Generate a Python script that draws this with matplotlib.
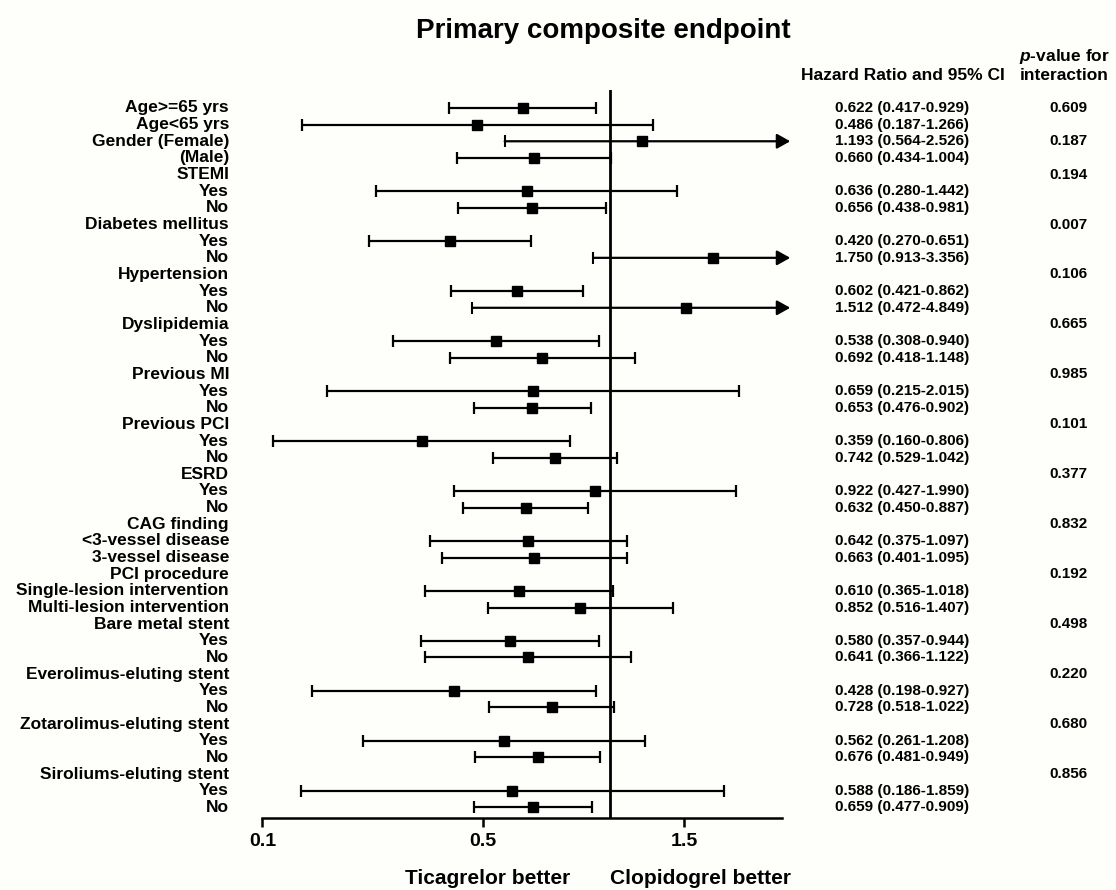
import numpy as np
import matplotlib.pyplot as plt
from matplotlib.ticker import NullLocator
from matplotlib.transforms import blended_transform_factory

plt.rcParams['font.family'] = ['Liberation Sans', 'DejaVu Sans']
plt.rcParams['mathtext.fontset'] = 'custom'
plt.rcParams['mathtext.it'] = 'Liberation Sans:italic:bold'
plt.rcParams['mathtext.rm'] = 'Liberation Sans:bold'

nan = np.nan

# subgroup rows, top to bottom
labels = ['Age>=65 yrs', 'Age<65 yrs', 'Gender (Female)', '(Male)',
          'STEMI', 'Yes', 'No',
          'Diabetes mellitus', 'Yes', 'No',
          'Hypertension', 'Yes', 'No',
          'Dyslipidemia', 'Yes', 'No',
          'Previous MI', 'Yes', 'No',
          'Previous PCI', 'Yes', 'No',
          'ESRD', 'Yes', 'No',
          'CAG finding', '<3-vessel disease', '3-vessel disease',
          'PCI procedure', 'Single-lesion intervention', 'Multi-lesion intervention',
          'Bare metal stent', 'Yes', 'No',
          'Everolimus-eluting stent', 'Yes', 'No',
          'Zotarolimus-eluting stent', 'Yes', 'No',
          'Siroliums-eluting stent', 'Yes', 'No']

hr = [0.622, 0.486, 1.193, 0.660,
      nan, 0.636, 0.656,
      nan, 0.420, 1.750,
      nan, 0.602, 1.512,
      nan, 0.538, 0.692,
      nan, 0.659, 0.653,
      nan, 0.359, 0.742,
      nan, 0.922, 0.632,
      nan, 0.642, 0.663,
      nan, 0.610, 0.852,
      nan, 0.580, 0.641,
      nan, 0.428, 0.728,
      nan, 0.562, 0.676,
      nan, 0.588, 0.659]

ci_low = [0.417, 0.187, 0.564, 0.434,
          nan, 0.280, 0.438,
          nan, 0.270, 0.913,
          nan, 0.421, 0.472,
          nan, 0.308, 0.418,
          nan, 0.215, 0.476,
          nan, 0.160, 0.529,
          nan, 0.427, 0.450,
          nan, 0.375, 0.401,
          nan, 0.365, 0.516,
          nan, 0.357, 0.366,
          nan, 0.198, 0.518,
          nan, 0.261, 0.481,
          nan, 0.186, 0.477]

ci_high = [0.929, 1.266, 2.526, 1.004,
           nan, 1.442, 0.981,
           nan, 0.651, 3.356,
           nan, 0.862, 4.849,
           nan, 0.940, 1.148,
           nan, 2.015, 0.902,
           nan, 0.806, 1.042,
           nan, 1.990, 0.887,
           nan, 1.097, 1.095,
           nan, 1.018, 1.407,
           nan, 0.944, 1.122,
           nan, 0.927, 1.022,
           nan, 1.208, 0.949,
           nan, 1.859, 0.909]

p_inter = ['0.609', '', '0.187', '',
           '0.194', '', '',
           '0.007', '', '',
           '0.106', '', '',
           '0.665', '', '',
           '0.985', '', '',
           '0.101', '', '',
           '0.377', '', '',
           '0.832', '', '',
           '0.192', '', '',
           '0.498', '', '',
           '0.220', '', '',
           '0.680', '', '',
           '0.856', '', '']

tick_vals = [0.151, 0.5, 1.5]
tick_labels = ['0.1', '0.5', '1.5']

bg = '#fefefb'
fig = plt.figure(figsize=(11.16, 8.90), dpi=100)
fig.patch.set_facecolor(bg)
ax = fig.add_axes([0.2352, 0.0809, 0.4655, 0.8180])
ax.set_facecolor('none')
ax.set_xscale('log')
ax.set_xlim(0.151, 2.55)
ax.set_ylim(42.64, -1.08)

ax.axvline(1.0, color='k', lw=2)

cut = 2.5        # CIs beyond this get an arrow
arrow_end = 2.667
for i in range(len(labels)):
    if np.isnan(hr[i]):
        continue
    if ci_high[i] > cut:
        ax.plot([ci_low[i]], [i], marker='|', ms=8, mew=1.5, color='k')
        ax.annotate('', xy=(arrow_end, i), xytext=(ci_low[i], i),
                    arrowprops=dict(arrowstyle='-|>,head_length=0.5,head_width=0.28',
                                    color='k', lw=1.6, mutation_scale=16,
                                    shrinkA=0, shrinkB=0),
                    annotation_clip=False)
    else:
        ax.errorbar(hr[i], i, xerr=[[hr[i] - ci_low[i]], [ci_high[i] - hr[i]]],
                    fmt='none', ecolor='k', elinewidth=1.6, capsize=4, capthick=1.6)
    ax.plot(hr[i], i, 's', color='k', ms=7.3, zorder=5)

for s in ['top', 'left', 'right']:
    ax.spines[s].set_visible(False)
ax.spines['bottom'].set_linewidth(1.8)
ax.set_yticks([])
ax.set_xticks(tick_vals)
ax.set_xticklabels(tick_labels, fontsize=14, fontweight='bold')
ax.xaxis.set_minor_locator(NullLocator())
ax.tick_params(axis='x', length=6.5, width=1.8, pad=4, direction='out')

tr = blended_transform_factory(fig.transFigure, ax.transData)
for i, lab in enumerate(labels):
    ax.text(0.2052, i, lab, transform=tr, ha='right', va='center',
            fontsize=12.5, fontweight='bold')
    if not np.isnan(hr[i]):
        txt = f'{hr[i]:.3f} ({ci_low[i]:.3f}-{ci_high[i]:.3f})'
        ax.text(0.748, i, txt, transform=tr, ha='left', va='center',
                fontsize=11, fontweight='bold')
    if p_inter[i]:
        ax.text(0.957, i, p_inter[i], transform=tr, ha='center', va='center',
                fontsize=11, fontweight='bold')

fig.text(0.5403, 1 - 31 / 890, 'Primary composite endpoint', ha='center', va='center',
         fontsize=20, fontweight='bold')
fig.text(0.7177, 1 - 75 / 890, 'Hazard Ratio and 95% CI', ha='left', va='center',
         fontsize=12.5, fontweight='bold')
fig.text(0.9534, 1 - 56 / 890, r'$p$-value for', ha='center', va='center',
         fontsize=12.5, fontweight='bold')
fig.text(0.9534, 1 - 75 / 890, 'interaction', ha='center', va='center',
         fontsize=12.5, fontweight='bold')
fig.text(0.4373, 1 - 878 / 890, 'Ticagrelor better', ha='center', va='center',
         fontsize=15, fontweight='bold')
fig.text(0.628, 1 - 878 / 890, 'Clopidogrel better', ha='center', va='center',
         fontsize=15, fontweight='bold')

fig.savefig('out.png', dpi=100, facecolor=fig.get_facecolor())
